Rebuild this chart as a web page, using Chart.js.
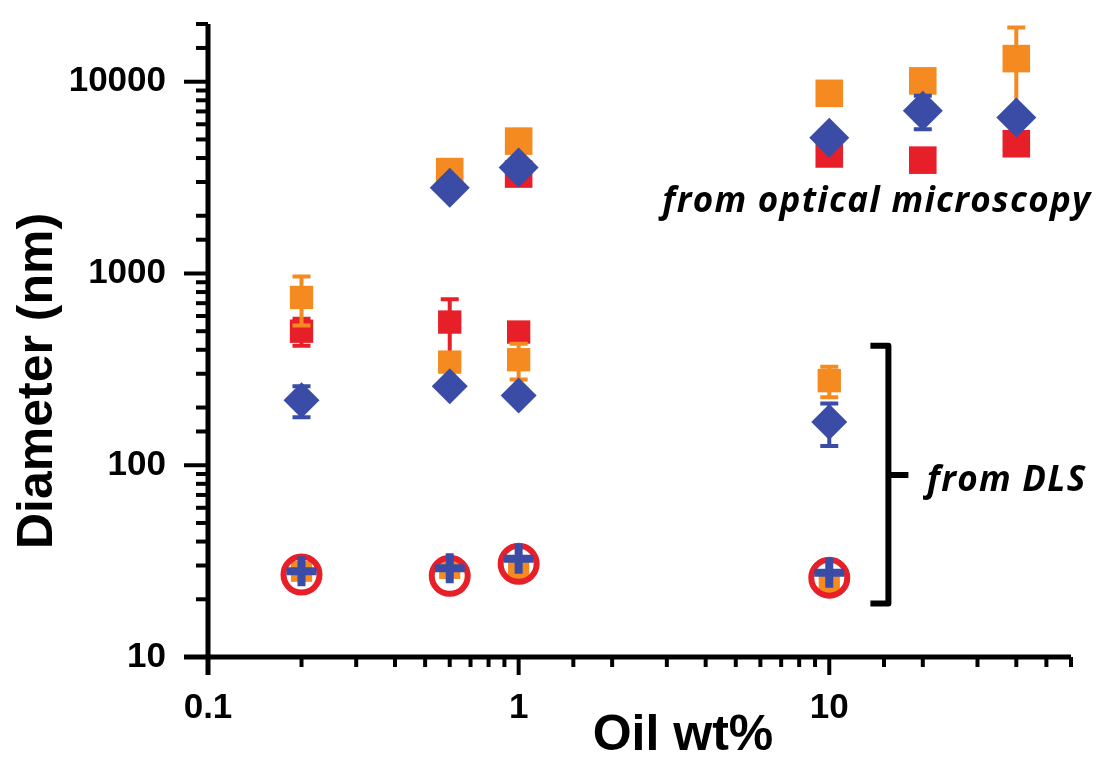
<!DOCTYPE html>
<html>
<head>
<meta charset="utf-8">
<script src="https://cdn.jsdelivr.net/npm/chart.js@4.4.1/dist/chart.umd.min.js"></script>
<style>
  html, body { margin: 0; padding: 0; background: #fff; }
  #wrap { width: 1097px; height: 760px; }
</style>
</head>
<body>
<div id="wrap"><canvas id="chart" width="1097" height="760"></canvas></div>
<script>
// x values (oil wt%)
const opticalX = [0.6, 1, 10, 20, 40];
const dlsX = [0.2, 0.6, 1, 10];

// optical microscopy sizes (nm)
const opticalOrange = [3400, 4900, 8700, 10100, 13200];
const opticalOrangeErr = [0, 0, 0, 0, 6000];
const opticalRed = [null, 3300, 4200, 3900, 4750];
const opticalBlue = [2800, 3570, 5100, 7050, 6500];
const opticalBlueErr = [0, 0, 0, 1400, 0];

// DLS sizes (nm)
const dlsOrange = [750, 345, 355, 276];
const dlsOrangeErr = [215, 0, 75, 50];
const dlsRed = [500, 558, 495, null];
const dlsRedErr = [80, 175, 0, 0];
const dlsBlue = [218, 258, 231, 168];
const dlsBlueErr = [40, 0, 15, 42];

// small population (DLS)
const smallOrange = [28, 29, 28, 24.5];
const smallCircle = [26.9, 26.5, 30.6, 25.9];
const smallCross = [28, 29, 32.5, 27.5];

// axis ranges
const xRange = [0.1, 60];
const yRange = [10, 20000];

// annotation anchors (data coordinates)
const opticalNote = { text: 'from optical microscopy', x: 2.9, y: 2090 };
const dlsNote = { text: 'from DLS', x: 20.6, y: 73 };
const dlsBracket = { x: 15.5, low: 19, mid: 89, high: 420 };

const ORANGE = '#F48A20';
const RED = '#E61F28';
const BLUE = '#3A4CA6';
const NARROW = "'Liberation Sans Narrow', 'Arial Narrow', 'Liberation Sans', sans-serif";
const NOTE_FONT = "italic bold 35px 'Open Sans', Lato, sans-serif";

const pts = (xs, ys) => xs.map((x, i) => ({ x, y: ys[i] })).filter(p => p.y != null);

const isDecade = (v) => {
    const l = Math.log10(v);
    return Math.abs(l - Math.round(l)) < 1e-9;
};

// error bars drawn under each dataset's own markers
const errorBars = {
    id: 'errorBars',
    beforeDatasetDraw(chart, args) {
        const ds = chart.data.datasets[args.index];
        if (!ds.errors) return;
        const ctx = chart.ctx;
        const y = chart.scales.y;
        ctx.save();
        ctx.strokeStyle = ds.errColor;
        ctx.lineWidth = 4;
        args.meta.data.forEach((el, j) => {
            const err = ds.errors[j];
            if (!err) return;
            const v = ds.data[j].y;
            const top = y.getPixelForValue(v + err);
            const bot = y.getPixelForValue(Math.max(v - err, yRange[0]));
            ctx.beginPath();
            ctx.moveTo(el.x, top);
            ctx.lineTo(el.x, bot);
            ctx.moveTo(el.x - 9, top);
            ctx.lineTo(el.x + 9, top);
            ctx.moveTo(el.x - 9, bot);
            ctx.lineTo(el.x + 9, bot);
            ctx.stroke();
        });
        ctx.restore();
    }
};

// axis lines, major/minor ticks, titles and notes
const frame = {
    id: 'frame',
    afterDraw(chart) {
        const ctx = chart.ctx;
        const { left, right, top, bottom } = chart.chartArea;
        const xs = chart.scales.x, ys = chart.scales.y;
        ctx.save();
        ctx.strokeStyle = '#000';
        ctx.lineCap = 'butt';

        ctx.lineWidth = 5;
        ctx.beginPath();
        ctx.moveTo(left, top);
        ctx.lineTo(left, bottom + 18);
        ctx.moveTo(left - 24, bottom);
        ctx.lineTo(right, bottom);
        ctx.stroke();

        ctx.lineWidth = 4;
        ys.ticks.forEach(t => {
            const p = ys.getPixelForValue(t.value);
            const len = isDecade(t.value) ? 24 : 12;
            ctx.beginPath();
            ctx.moveTo(left, p);
            ctx.lineTo(left - len, p);
            ctx.stroke();
        });
        xs.ticks.forEach(t => {
            const p = xs.getPixelForValue(t.value);
            const len = isDecade(t.value) ? 18 : 10;
            ctx.beginPath();
            ctx.moveTo(p, bottom);
            ctx.lineTo(p, bottom + len);
            ctx.stroke();
        });

        // axis titles
        ctx.fillStyle = '#000';
        ctx.textAlign = 'center';
        ctx.textBaseline = 'middle';
        ctx.font = 'bold 50px ' + NARROW;
        ctx.save();
        ctx.translate(38, 381);
        ctx.rotate(-Math.PI / 2);
        ctx.fillText('Diameter (nm)', 0, 0);
        ctx.restore();
        ctx.font = 'bold 50px ' + NARROW;
        ctx.fillText('Oil wt%', 683, 736);

        // notes
        ctx.font = NOTE_FONT;
        ctx.letterSpacing = '1.3px';
        ctx.textAlign = 'left';
        ctx.textBaseline = 'alphabetic';
        [opticalNote, dlsNote].forEach(n => {
            ctx.fillText(n.text, xs.getPixelForValue(n.x), ys.getPixelForValue(n.y));
        });
        ctx.letterSpacing = '0px';

        // DLS bracket
        const bx = xs.getPixelForValue(dlsBracket.x);
        const bTop = ys.getPixelForValue(dlsBracket.high);
        const bBot = ys.getPixelForValue(dlsBracket.low);
        const bMid = ys.getPixelForValue(dlsBracket.mid);
        ctx.lineWidth = 6;
        ctx.lineJoin = 'round';
        ctx.beginPath();
        ctx.moveTo(bx - 18, bTop);
        ctx.lineTo(bx, bTop);
        ctx.lineTo(bx, bBot);
        ctx.lineTo(bx - 18, bBot);
        ctx.moveTo(bx, bMid);
        ctx.lineTo(bx + 20, bMid);
        ctx.stroke();
        ctx.restore();
    }
};

const square = (data, color, r, errors) => ({
    data, pointStyle: 'rect', pointRadius: r, backgroundColor: color,
    borderWidth: 0, errors, errColor: color
});

new Chart(document.getElementById('chart'), {
    type: 'scatter',
    data: {
        datasets: [
            { data: pts(dlsX, smallCross), pointStyle: 'cross', pointRadius: 15,
              borderColor: BLUE, borderWidth: 8 },
            { data: pts(dlsX, smallCircle), pointStyle: 'circle', pointRadius: 18,
              borderColor: RED, borderWidth: 6, backgroundColor: 'rgba(0,0,0,0)' },
            square(pts(dlsX, smallOrange), ORANGE, 15),
            { data: pts(opticalX, opticalBlue), pointStyle: 'rectRot', pointRadius: 20,
              backgroundColor: BLUE, borderWidth: 0, errors: opticalBlueErr, errColor: BLUE },
            { data: pts(dlsX, dlsBlue), pointStyle: 'rectRot', pointRadius: 18,
              backgroundColor: BLUE, borderWidth: 0, errors: dlsBlueErr, errColor: BLUE },
            square(pts(opticalX, opticalOrange), ORANGE, 19.5, opticalOrangeErr),
            square(pts(dlsX, dlsOrange), ORANGE, 16.5, dlsOrangeErr),
            square(pts(opticalX, opticalRed), RED, 19.5),
            square(pts(dlsX, dlsRed), RED, 16.5, dlsRedErr)
        ]
    },
    options: {
        responsive: false,
        animation: false,
        events: [],
        layout: { padding: { left: 0, right: 26, top: 20, bottom: 0 } },
        plugins: { legend: { display: false }, tooltip: { enabled: false } },
        scales: {
            x: {
                type: 'logarithmic',
                min: xRange[0],
                max: xRange[1],
                grid: { display: false, drawTicks: false },
                border: { display: false },
                afterFit: (s) => { s.height = 103; s.paddingLeft = 0; s.paddingRight = 0; },
                ticks: {
                    autoSkip: false,
                    maxRotation: 0,
                    padding: 30,
                    color: '#000',
                    font: { family: NARROW, size: 35, weight: 'bold' },
                    callback: (v) => isDecade(v) ? String(v) : ''
                }
            },
            y: {
                type: 'logarithmic',
                min: yRange[0],
                max: yRange[1],
                grid: { display: false, drawTicks: false },
                border: { display: false },
                afterFit: (s) => { s.width = 208; s.paddingTop = 0; s.paddingBottom = 0; },
                ticks: {
                    autoSkip: false,
                    padding: 42,
                    color: '#000',
                    font: { family: NARROW, size: 35, weight: 'bold' },
                    callback: (v) => isDecade(v) ? String(v) : ''
                }
            }
        }
    },
    plugins: [errorBars, frame]
});
</script>
</body>
</html>
